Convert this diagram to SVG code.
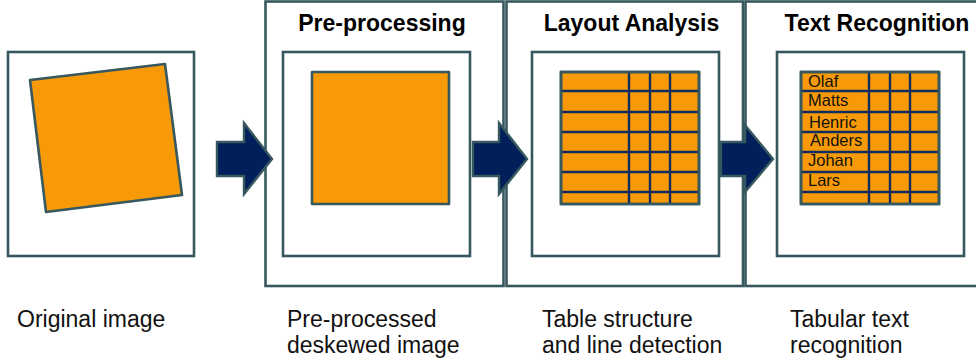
<svg xmlns="http://www.w3.org/2000/svg" width="976" height="363" viewBox="0 0 976 363">
<style>
.frame{fill:#fff;stroke:#37585e;stroke-width:2.6}
.sq{fill:#f89a07;stroke:#37585e;stroke-width:2.6;stroke-linejoin:round}
.grid{stroke:#0f2d5e;stroke-width:2.4;fill:none}
.arrow{fill:#001f5b;stroke:#37585e;stroke-width:2.4;stroke-linejoin:miter}
.title{font-family:"Liberation Sans",Arial,sans-serif;font-weight:bold;font-size:23px;fill:#000;text-anchor:middle}
.cap{font-family:"Liberation Sans",Arial,sans-serif;font-size:23px;fill:#111}
.name{font-family:"Liberation Sans",Arial,sans-serif;font-size:16.5px;fill:#111}
</style>
<defs>
<g id="grid">
<path class="grid" d="M0 19H138M0 40H138M0 60H138M0 80H138M0 100H138M0 120H138M68 0V132M89 0V132M109 0V132"/>
</g>
</defs>

<g id="original">
<rect class="frame" x="8" y="52" width="186" height="204"/>
<polygon class="sq" points="30,80 165,64 182,195 46,212"/>
<text class="cap" x="17" y="327">Original image</text>
</g>

<g id="preprocessing">
<rect class="frame" x="265.5" y="1.5" width="238" height="284.5"/>
<text class="title" x="382" y="31">Pre-processing</text>
<rect class="frame" x="283" y="52" width="187" height="204"/>
<rect class="sq" x="312" y="72" width="137" height="132"/>
<text class="cap" x="287" y="327">Pre-processed</text>
<text class="cap" x="287" y="353">deskewed image</text>
</g>

<g id="layout">
<rect class="frame" x="506.5" y="1.5" width="236.5" height="284.5"/>
<text class="title" x="631.5" y="31">Layout Analysis</text>
<rect class="frame" x="532" y="52" width="187" height="204"/>
<rect class="sq" x="561" y="72" width="138" height="132"/>
<use href="#grid" x="561" y="72"/>
<rect x="561" y="72" width="138" height="132" fill="none" stroke="#37585e" stroke-width="2.6"/>
<text class="cap" x="542" y="327">Table structure</text>
<text class="cap" x="542" y="353">and line detection</text>
</g>

<g id="recognition">
<rect class="frame" x="745.5" y="1.5" width="240" height="284.5"/>
<text class="title" x="877" y="31">Text Recognition</text>
<rect class="frame" x="777" y="52" width="187" height="204"/>
<rect class="sq" x="801" y="72" width="138" height="132"/>
<use href="#grid" x="801" y="72"/>
<rect x="801" y="72" width="138" height="132" fill="none" stroke="#37585e" stroke-width="2.6"/>
<text class="name" x="808" y="87">Olaf</text>
<text class="name" x="808" y="106">Matts</text>
<text class="name" x="809" y="128">Henric</text>
<text class="name" x="810" y="146">Anders</text>
<text class="name" x="808" y="166">Johan</text>
<text class="name" x="808" y="186">Lars</text>
<text class="cap" x="790" y="327">Tabular text</text>
<text class="cap" x="790" y="353">recognition</text>
</g>

<g id="connectors">
<polygon class="arrow" points="217,142 244,142 244,123 272,159 244,194 244,176 217,176"/>
<polygon class="arrow" points="473,142 499,142 499,123 527,159 499,194 499,176 473,176"/>
<polygon class="arrow" points="721,142 745,142 745,125 773,159 745,192 745,176 721,176"/>
</g>
</svg>
